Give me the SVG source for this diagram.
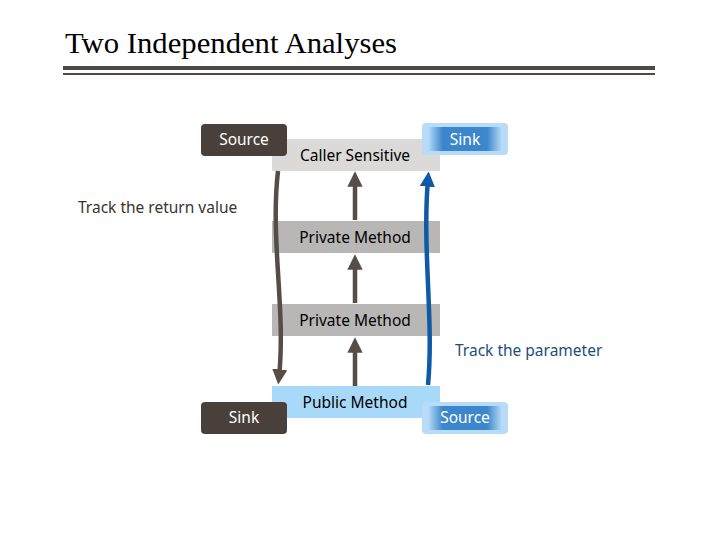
<svg xmlns="http://www.w3.org/2000/svg" width="720" height="540" viewBox="0 0 720 540">
<defs>
<style>
.t{font-family:"Noto Sans","Open Sans",sans-serif;font-size:15.5px}
.dk{fill:#4a403b}
.gr{fill:#b9b7b6}
</style>
<marker id="ag" viewBox="0 0 10 10" refX="5" refY="5" markerWidth="3.4" markerHeight="3.4" orient="auto"><path d="M0,0L10,5L0,10Z" fill="#564c48"/></marker>
<marker id="ab" viewBox="0 0 10 10" refX="5" refY="5" markerWidth="3.4" markerHeight="3.4" orient="auto"><path d="M0,0L10,5L0,10Z" fill="#0e5aa7"/></marker>
<linearGradient id="bl" x1="0" x2="1"><stop offset="0" stop-color="#b8dcf7"/><stop offset="0.2" stop-color="#3c87cb"/><stop offset="0.8" stop-color="#3c87cb"/><stop offset="1" stop-color="#b8dcf7"/></linearGradient>
</defs>
<rect width="720" height="540" fill="#fff"/>
<text x="65" y="53" font-family="Liberation Serif,serif" font-size="28.5" textLength="332" lengthAdjust="spacingAndGlyphs">Two Independent Analyses</text>
<rect x="63" y="66" width="592" height="4" fill="#4d4a48"/>
<rect x="63" y="73" width="592" height="2" fill="#4d4a48"/>
<g id="callerSensitive"><rect x="272" y="139" width="168" height="32" fill="#dcdad8"/><text class="t" x="355" y="161" text-anchor="middle">Caller Sensitive</text></g>
<g id="private1"><rect class="gr" x="272" y="221" width="168" height="32"/><text class="t" x="355" y="243" text-anchor="middle">Private Method</text></g>
<g id="private2"><rect class="gr" x="272" y="304" width="168" height="32"/><text class="t" x="355" y="326" text-anchor="middle">Private Method</text></g>
<g id="public"><rect x="272" y="386" width="168" height="32" fill="#a9d9f8"/><text class="t" x="355" y="408" text-anchor="middle">Public Method</text></g>
<g id="sourceTop"><rect class="dk" x="201" y="124" width="86" height="32" rx="4"/><text class="t" x="244" y="145" text-anchor="middle" fill="#fff">Source</text></g>
<g id="sinkBottom"><rect class="dk" x="201" y="402" width="86" height="32" rx="4"/><text class="t" x="244" y="423" text-anchor="middle" fill="#fff">Sink</text></g>
<g id="sinkTop"><rect x="422" y="123" width="86" height="32" rx="4" fill="#b8dcf7"/><rect x="428" y="127" width="74" height="24" rx="2" fill="url(#bl)"/><text class="t" x="465" y="145" text-anchor="middle" fill="#fff">Sink</text></g>
<g id="sourceBottom"><rect x="422" y="402" width="86" height="32" rx="4" fill="#b8dcf7"/><rect x="428" y="406" width="74" height="24" rx="2" fill="url(#bl)"/><text class="t" x="465" y="423" text-anchor="middle" fill="#fff">Source</text></g>
<g id="labels">
<text class="t" x="78" y="213" fill="#3a3330">Track the return value</text>
<text class="t" x="455" y="356" fill="#1e4e7a">Track the parameter</text>
</g>
<g id="connectors" fill="none" stroke-width="4.5">
<path d="M355,386V345" stroke="#564c48" marker-end="url(#ag)"/>
<path d="M355,303V262" stroke="#564c48" marker-end="url(#ag)"/>
<path d="M355,220V179" stroke="#564c48" marker-end="url(#ag)"/>
<path d="M278,171C270,240 286,310 279,377" stroke="#564c48" marker-end="url(#ag)"/>
<path d="M428,385C434,320 422,250 428,179" stroke="#0e5aa7" marker-end="url(#ab)"/>
</g>
</svg>
